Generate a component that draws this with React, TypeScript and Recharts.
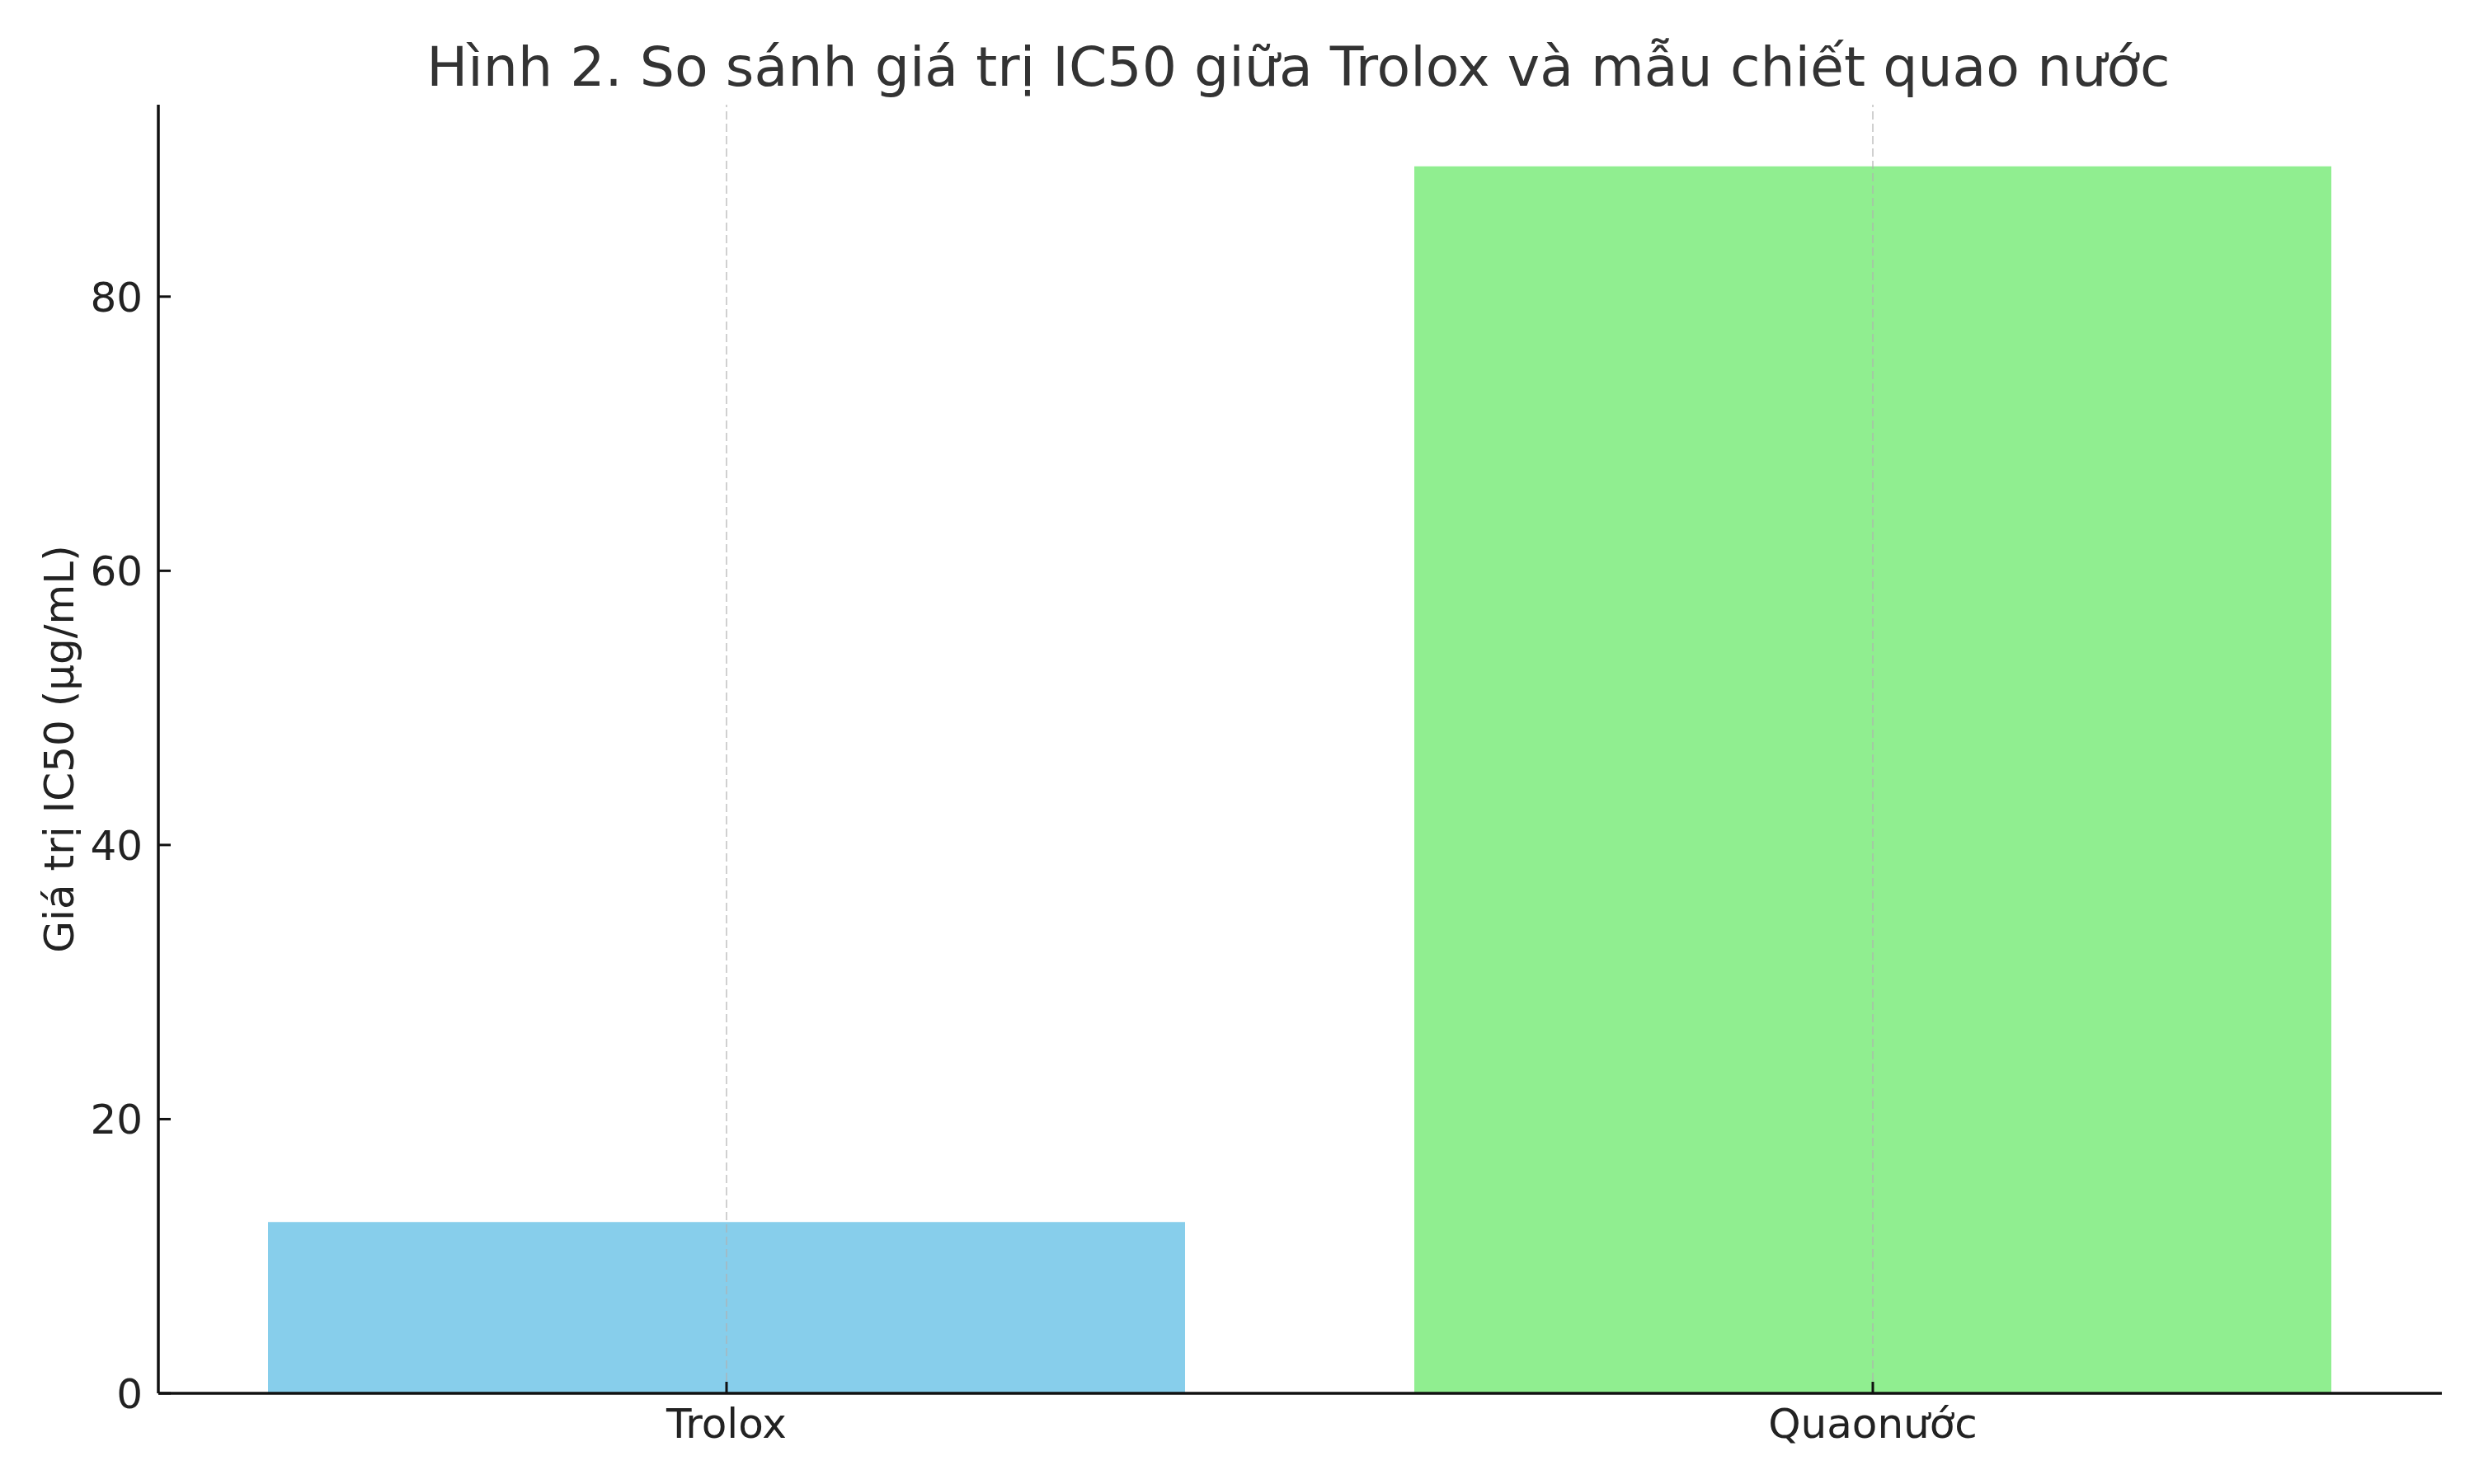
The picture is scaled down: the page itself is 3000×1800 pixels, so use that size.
import React from "react"
import { BarChart, Bar, XAxis, YAxis, Cell, ReferenceLine } from "recharts"

const categories = ["Trolox", "Quaonước"]
const ic50Values = [12.5, 89.5]
const barColors = ["#87CEEB", "#90EE90"]
const yTicks = [0, 20, 40, 60, 80]

const title = "Hình 2. So sánh giá trị IC50 giữa Trolox và mẫu chiết quao nước"
const yLabel = "Giá trị IC50 (µg/mL)"

const data = categories.map((name, i) => ({ name, value: ic50Values[i] }))

const FONT = "'DejaVu Sans', sans-serif"

function YLabel({ viewBox }: any) {
  const cx = viewBox.x + 72
  const cy = viewBox.y + viewBox.height / 2
  return (
    <text
      x={cx}
      y={cy}
      transform={`rotate(-90, ${cx}, ${cy})`}
      textAnchor="middle"
      dominantBaseline="central"
      fontSize={50}
      fontFamily={FONT}
      fill="#222"
    >
      {yLabel}
    </text>
  )
}

export default function App() {
  return (
    <div style={{ position: "absolute", left: 0, top: 0, width: 3000, height: 1800, background: "#fff" }}>
      <div
        style={{
          position: "absolute",
          left: 190,
          top: 48,
          width: 2769,
          textAlign: "center",
          fontFamily: FONT,
          fontSize: 66.5,
          lineHeight: 1,
          color: "#333",
          whiteSpace: "nowrap",
        }}
      >
        {title}
      </div>
      <BarChart
        width={3000}
        height={1800}
        data={data}
        margin={{ top: 127, right: 39, bottom: 0, left: 0 }}
        barCategoryGap="10%"
      >
        <XAxis
          dataKey="name"
          height={110}
          padding={{ left: -6, right: -5 }}
          tickSize={-14}
          tickMargin={32}
          tick={{ fontSize: 50, fontFamily: FONT, fill: "#222" }}
          axisLine={{ stroke: "#111", strokeWidth: 3.5 }}
          tickLine={{ stroke: "#111", strokeWidth: 3 }}
        />
        <YAxis
          width={192}
          domain={[0, 94]}
          ticks={yTicks}
          allowDataOverflow
          tickSize={-15}
          tickMargin={34}
          tick={{ fontSize: 50, fontFamily: FONT, fill: "#222" }}
          axisLine={{ stroke: "#111", strokeWidth: 3.5 }}
          tickLine={{ stroke: "#111", strokeWidth: 3 }}
          label={<YLabel />}
        />
        <Bar dataKey="value" isAnimationActive={false}>
          {data.map((d, i) => (
            <Cell key={d.name} fill={barColors[i]} />
          ))}
        </Bar>
        {categories.map((c) => (
          <ReferenceLine
            key={c}
            x={c}
            stroke="#b0b0b0"
            strokeOpacity={0.6}
            strokeWidth={2}
            strokeDasharray="10 5"
          />
        ))}
      </BarChart>
    </div>
  )
}
